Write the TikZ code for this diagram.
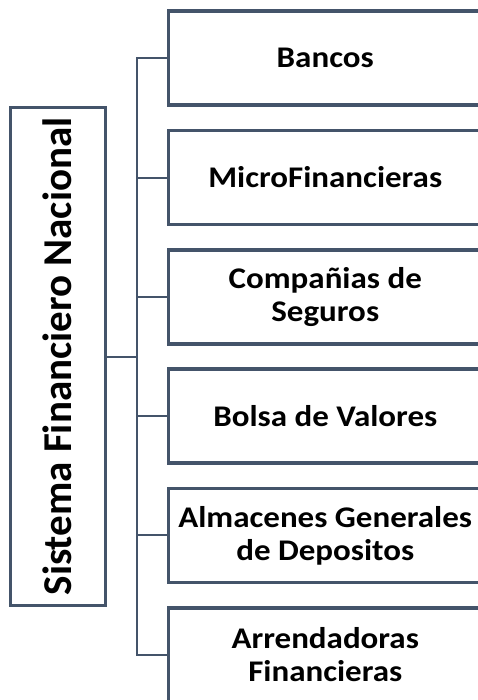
\documentclass[tikz,border=0pt]{standalone}
\usepackage{fontspec}
\setmainfont{Carlito}
\newfontfamily\cajafont{Carlito}[FakeStretch=1.1]
\usepackage{graphicx}
\definecolor{borde}{HTML}{44546A}

\begin{document}
\begin{tikzpicture}[
        x=1pt, y=-1pt,
        every node/.style={draw=borde, line width=3.5pt, text centered, align=center, font=\cajafont\bfseries\fontsize{30}{33}\selectfont},
        sistema/.style={minimum width=95pt, minimum height=498pt, font=\bfseries\fontsize{41}{44}\selectfont},
        entidad/.style={minimum width=314pt, minimum height=94pt},
        edge from parent/.style={draw=borde, line width=2pt},
        edge from parent path={(\tikzparentnode.east) -- ++(30pt,0) |- (\tikzchildnode.west)},
        grow'=east,
        level distance=267.5pt,
        sibling distance=119.3pt,
    ]
    \useasboundingbox (0,0) rectangle (478,700);
    \node[sistema](sfn) at (57.75,356.5){\rotatebox{90}{Sistema Financiero Nacional}}
    child{node[entidad](bancos){Bancos}}
    child{node[entidad](micro){MicroFinancieras}}
    child{node[entidad](seguros){Compañias de\\Seguros}}
    child{node[entidad](bolsa){Bolsa de Valores}}
    child{node[entidad](almacenes){Almacenes Generales\\de Depositos}}
    child{node[entidad](arrendadoras){Arrendadoras\\Financieras}}
    ;
    \end{tikzpicture}
\end{document}
